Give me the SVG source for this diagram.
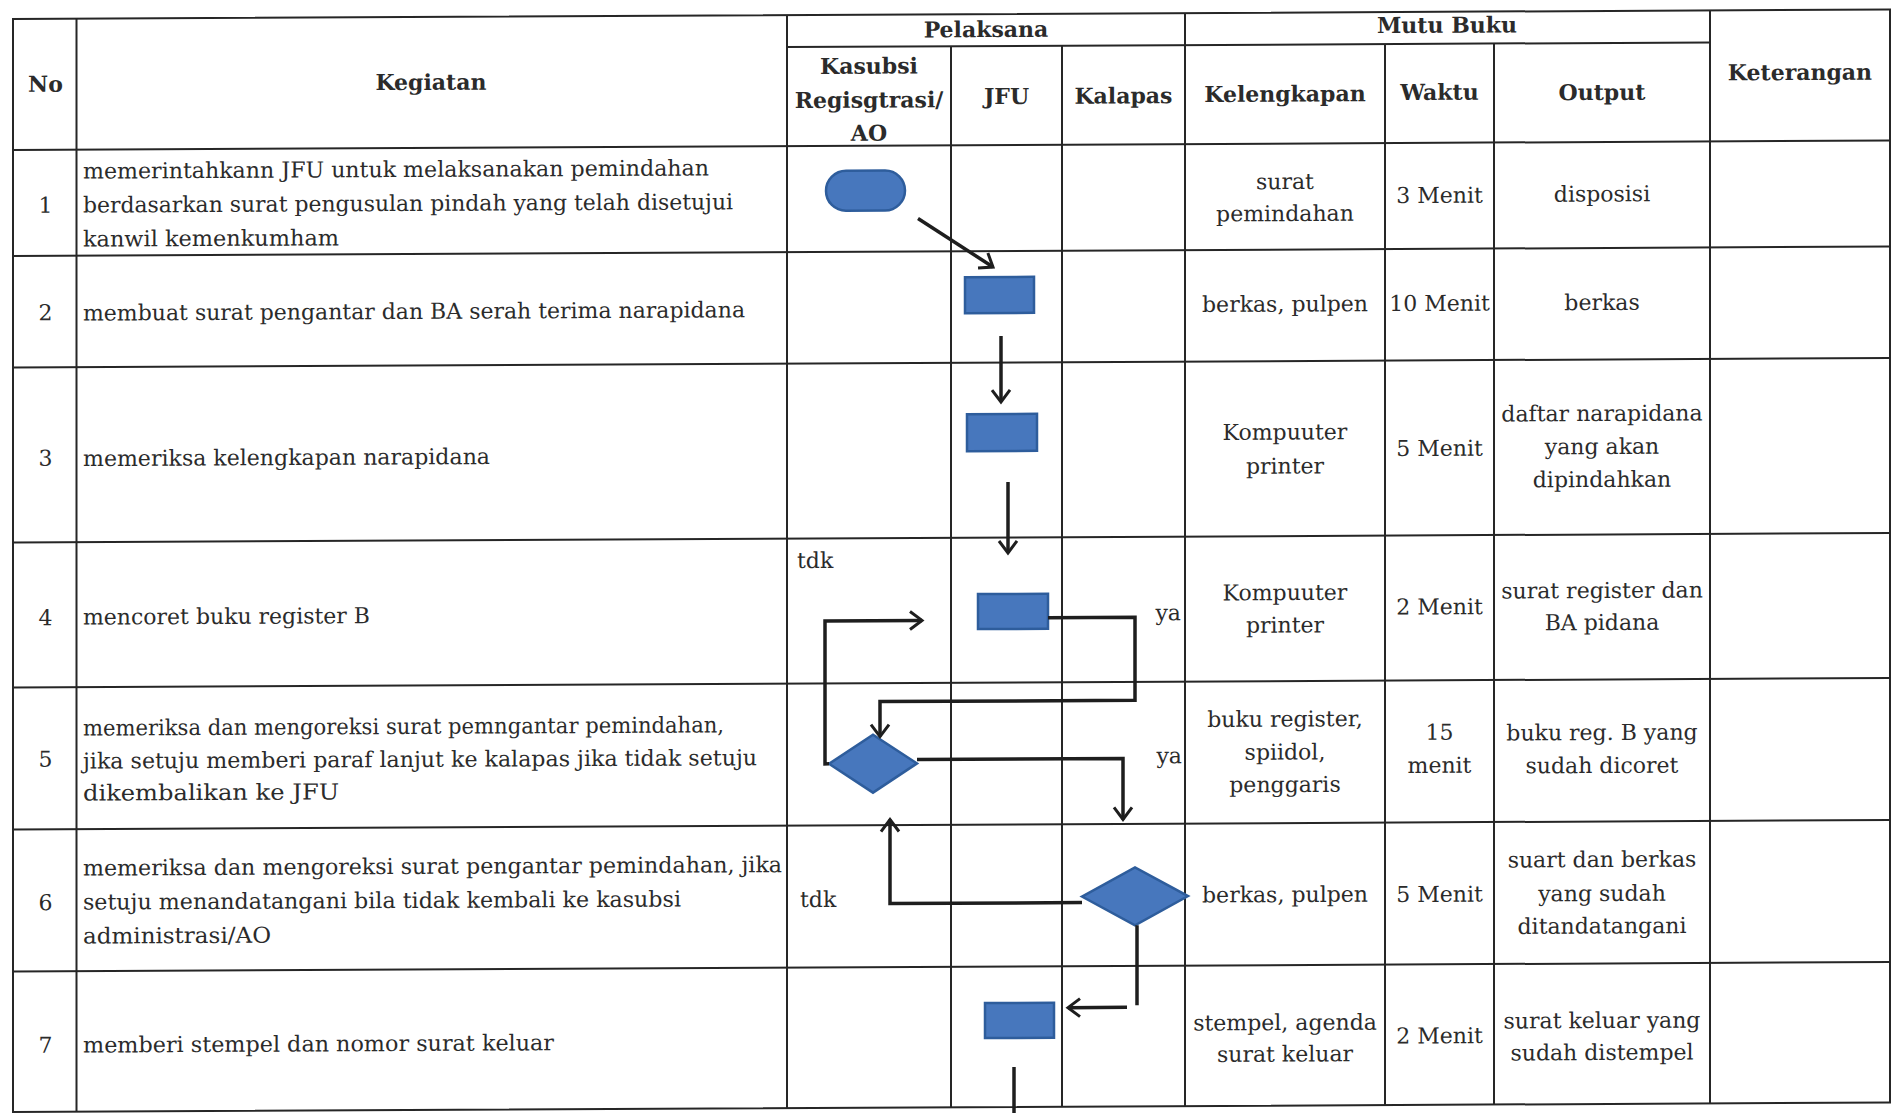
<svg xmlns="http://www.w3.org/2000/svg" width="1894" height="1113" viewBox="0 0 1894 1113">
  <style>
    .grid { stroke: #262626; stroke-width: 2; fill: none; }
    .t { font-family: "DejaVu Serif", "Liberation Serif", serif; font-size: 22px; fill: #2b2b2b; }
    .c { text-anchor: middle; }
    .h { font-family: "DejaVu Serif", "Liberation Serif", serif; font-size: 22px; font-weight: bold; fill: #2b2b2b; text-anchor: middle; }
    .shape { fill: #4777bd; stroke: #2e5d9c; stroke-width: 2.5; }
    .conn { fill: none; stroke: #1e1e1e; stroke-width: 3.5; stroke-linejoin: miter; }
    .arrow { marker-end: url(#chev); }
  </style>
  <defs>
    <marker id="chev" viewBox="-2 -2 17 22" refX="12" refY="9" markerWidth="17" markerHeight="22" markerUnits="userSpaceOnUse" orient="auto">
      <path d="M0,0 L12,9 L0,18" fill="none" stroke="#1e1e1e" stroke-width="3"/>
    </marker>
  </defs>
  <rect width="1894" height="1113" fill="#ffffff"/>

  <!-- whole sheet sits slightly tilted -->
  <g transform="matrix(1 -0.005 0 1 0 0)">

    <!-- table grid -->
    <g id="table">
      <rect class="grid" x="13" y="19" width="1877" height="1093"/>
      <!-- header sub-rows -->
      <line class="grid" x1="787" y1="51" x2="1710" y2="51"/>
      <line class="grid" x1="13" y1="150" x2="1890" y2="150"/>
      <!-- row separators -->
      <line class="grid" x1="13" y1="256" x2="1890" y2="256"/>
      <line class="grid" x1="13" y1="367.5" x2="1890" y2="367.5"/>
      <line class="grid" x1="13" y1="542.5" x2="1890" y2="542.5"/>
      <line class="grid" x1="13" y1="687.5" x2="1890" y2="687.5"/>
      <line class="grid" x1="13" y1="829.5" x2="1890" y2="829.5"/>
      <line class="grid" x1="13" y1="971.5" x2="1890" y2="971.5"/>
      <!-- full-height columns -->
      <line class="grid" x1="76.5" y1="19" x2="76.5" y2="1112"/>
      <line class="grid" x1="787" y1="19" x2="787" y2="1112"/>
      <line class="grid" x1="1185" y1="19" x2="1185" y2="1112"/>
      <line class="grid" x1="1710" y1="19" x2="1710" y2="1112"/>
      <!-- columns below the group headings -->
      <line class="grid" x1="951" y1="51" x2="951" y2="1112"/>
      <line class="grid" x1="1062" y1="51" x2="1062" y2="1112"/>
      <line class="grid" x1="1385" y1="51" x2="1385" y2="1112"/>
      <line class="grid" x1="1494" y1="51" x2="1494" y2="1112"/>

      <!-- headings -->
      <text class="h" x="45.5" y="92">No</text>
      <text class="h" x="431" y="92">Kegiatan</text>
      <text class="h" x="986" y="42">Pelaksana</text>
      <text class="h" x="1447" y="40">Mutu Buku</text>
      <text class="h" x="869" y="78">Kasubsi</text>
      <text class="h" x="869" y="112">Regisgtrasi/</text>
      <text class="h" x="869" y="145">AO</text>
      <text class="h" x="1006.5" y="109">JFU</text>
      <text class="h" x="1123.5" y="109">Kalapas</text>
      <text class="h" x="1285" y="108">Kelengkapan</text>
      <text class="h" x="1439.5" y="107">Waktu</text>
      <text class="h" x="1602" y="108">Output</text>
      <text class="h" x="1800" y="89">Keterangan</text>

      <!-- row 1 -->
      <text class="t c" x="45.5" y="213">1</text>
      <text class="t" x="83" y="179" textLength="626" lengthAdjust="spacingAndGlyphs">memerintahkann JFU untuk melaksanakan pemindahan</text>
      <text class="t" x="83" y="213" textLength="650" lengthAdjust="spacingAndGlyphs">berdasarkan surat pengusulan pindah yang telah disetujui</text>
      <text class="t" x="83" y="247" textLength="256" lengthAdjust="spacingAndGlyphs">kanwil kemenkumham</text>
      <text class="t c" x="1285" y="195.5">surat</text>
      <text class="t c" x="1285" y="227.5">pemindahan</text>
      <text class="t c" x="1439.5" y="210">3 Menit</text>
      <text class="t c" x="1602" y="209.5">disposisi</text>

      <!-- row 2 -->
      <text class="t c" x="45.5" y="320.5">2</text>
      <text class="t" x="83" y="321" textLength="662" lengthAdjust="spacingAndGlyphs">membuat surat pengantar dan BA serah terima narapidana</text>
      <text class="t c" x="1285" y="318">berkas, pulpen</text>
      <text class="t c" x="1439.5" y="318">10 Menit</text>
      <text class="t c" x="1602" y="318">berkas</text>

      <!-- row 3 -->
      <text class="t c" x="45.5" y="466">3</text>
      <text class="t" x="83" y="466.5" textLength="407" lengthAdjust="spacingAndGlyphs">memeriksa kelengkapan narapidana</text>
      <text class="t c" x="1285" y="446">Kompuuter</text>
      <text class="t c" x="1285" y="480">printer</text>
      <text class="t c" x="1439.5" y="463">5 Menit</text>
      <text class="t c" x="1602" y="429">daftar narapidana</text>
      <text class="t c" x="1602" y="462">yang akan</text>
      <text class="t c" x="1602" y="495">dipindahkan</text>

      <!-- row 4 -->
      <text class="t c" x="45.5" y="625.5">4</text>
      <text class="t" x="83" y="625" textLength="287" lengthAdjust="spacingAndGlyphs">mencoret buku register B</text>
      <text class="t c" x="1285" y="606.5">Kompuuter</text>
      <text class="t c" x="1285" y="639">printer</text>
      <text class="t c" x="1439.5" y="621.5">2 Menit</text>
      <text class="t c" x="1602" y="606">surat register dan</text>
      <text class="t c" x="1602" y="638">BA pidana</text>

      <!-- row 5 -->
      <text class="t c" x="45.5" y="767">5</text>
      <text class="t" x="83" y="736" textLength="641" lengthAdjust="spacingAndGlyphs">memeriksa dan mengoreksi surat pemngantar pemindahan,</text>
      <text class="t" x="83" y="769" textLength="674" lengthAdjust="spacingAndGlyphs">jika setuju memberi paraf lanjut ke kalapas jika tidak setuju</text>
      <text class="t" x="83" y="801" textLength="256" lengthAdjust="spacingAndGlyphs">dikembalikan ke JFU</text>
      <text class="t c" x="1285" y="733">buku register,</text>
      <text class="t c" x="1285" y="766">spiidol,</text>
      <text class="t c" x="1285" y="798.5">penggaris</text>
      <text class="t c" x="1439.5" y="747">15</text>
      <text class="t c" x="1439.5" y="780">menit</text>
      <text class="t c" x="1602" y="748">buku reg. B yang</text>
      <text class="t c" x="1602" y="781">sudah dicoret</text>

      <!-- row 6 -->
      <text class="t c" x="45.5" y="910.5">6</text>
      <text class="t" x="83" y="876" textLength="699" lengthAdjust="spacingAndGlyphs">memeriksa dan mengoreksi surat pengantar pemindahan, jika</text>
      <text class="t" x="83" y="910" textLength="598" lengthAdjust="spacingAndGlyphs">setuju menandatangani bila tidak kembali ke kasubsi</text>
      <text class="t" x="83" y="944" textLength="188" lengthAdjust="spacingAndGlyphs">administrasi/AO</text>
      <text class="t c" x="1285" y="908.5">berkas, pulpen</text>
      <text class="t c" x="1439.5" y="909">5 Menit</text>
      <text class="t c" x="1602" y="875">suart dan berkas</text>
      <text class="t c" x="1602" y="909">yang sudah</text>
      <text class="t c" x="1602" y="941.5">ditandatangani</text>

      <!-- row 7 -->
      <text class="t c" x="45.5" y="1053">7</text>
      <text class="t" x="83" y="1053" textLength="471" lengthAdjust="spacingAndGlyphs">memberi stempel dan nomor surat keluar</text>
      <text class="t c" x="1285" y="1036.5">stempel, agenda</text>
      <text class="t c" x="1285" y="1068">surat keluar</text>
      <text class="t c" x="1439.5" y="1050.5">2 Menit</text>
      <text class="t c" x="1602" y="1036">surat keluar yang</text>
      <text class="t c" x="1602" y="1068">sudah distempel</text>
    </g>

    <!-- flow nodes -->
    <g id="n1-start"><rect class="shape" x="826" y="175" width="79" height="40" rx="20"/></g>
    <g id="n2-surat-pengantar"><rect class="shape" x="965" y="282" width="69" height="36"/></g>
    <g id="n3-periksa-kelengkapan"><rect class="shape" x="967" y="419" width="70" height="37"/></g>
    <g id="n4-coret-register"><rect class="shape" x="978" y="599" width="70" height="35"/></g>
    <g id="n5-koreksi-kasubsi"><polygon class="shape" points="829,768 873,739 917,768 873,797"/></g>
    <g id="n6-koreksi-kalapas"><polygon class="shape" points="1082,902 1135,873 1188,902 1135,931"/></g>
    <g id="n7-stempel"><rect class="shape" x="985" y="1008" width="69" height="35"/></g>

    <!-- connectors -->
    <g id="connectors">
      <path class="conn arrow" d="M918,223 L993,272"/>
      <path class="conn arrow" d="M1001,341 V407"/>
      <path class="conn arrow" d="M1008,487 V558"/>
      <path class="conn arrow" d="M829,768 H825 V625 H922"/>
      <path class="conn arrow" d="M1048,623 H1135 V706 H880 V741"/>
      <path class="conn arrow" d="M917,764 H1123 V825"/>
      <path class="conn arrow" d="M1082,908 H890 V824"/>
      <path class="conn" d="M1137,931 V1011"/>
      <path class="conn arrow" d="M1127,1013 H1068"/>
      <path class="conn" d="M1014,1072 V1125"/>
    </g>

    <!-- branch labels -->
    <g id="branch-labels">
      <text class="t" x="797" y="572">tdk</text>
      <text class="t" x="1181" y="626" text-anchor="end">ya</text>
      <text class="t" x="1182" y="769" text-anchor="end">ya</text>
      <text class="t" x="800" y="911">tdk</text>
    </g>
  </g>
</svg>
